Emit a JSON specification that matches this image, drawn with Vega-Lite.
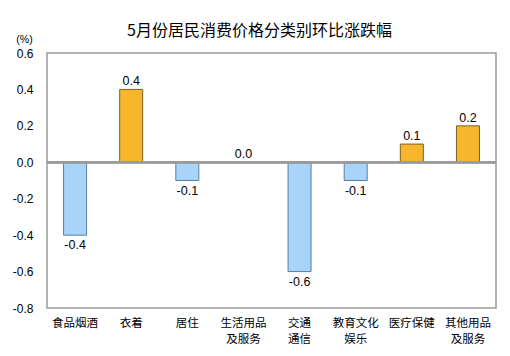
{
  "$schema": "https://vega.github.io/schema/vega-lite/v6.json",
  "autosize": "none",
  "width": 449,
  "height": 255,
  "padding": {"left": 47, "top": 53, "right": 14, "bottom": 48},
  "background": "white",
  "config": {
    "font": "Noto Sans CJK SC",
    "view": {"stroke": "#9a9a9a", "strokeWidth": 1.5},
    "axisY": {"labelOverlap": false}
  },
  "title": {
    "text": "5月份居民消费价格分类别环比涨跌幅",
    "fontSize": 16,
    "fontWeight": "normal",
    "color": "#000000",
    "anchor": "middle",
    "offset": -5,
    "dx": -12,
    "font": "Noto Sans CJK SC"
  },
  "data": {
    "values": [
      {"category": "食品烟酒", "value": -0.4, "sign": "neg"},
      {"category": "衣着", "value": 0.4, "sign": "pos"},
      {"category": "居住", "value": -0.1, "sign": "neg"},
      {"category": "生活用品及服务", "value": 0.0, "sign": "pos"},
      {"category": "交通通信", "value": -0.6, "sign": "neg"},
      {"category": "教育文化娱乐", "value": -0.1, "sign": "neg"},
      {"category": "医疗保健", "value": 0.1, "sign": "pos"},
      {"category": "其他用品及服务", "value": 0.2, "sign": "pos"}
    ]
  },
  "transform": [
    {"calculate": "replace(format(datum.value, '.1f'), '\u2212', '-')", "as": "label"}
  ],
  "encoding": {
    "x": {
      "field": "category",
      "type": "nominal",
      "sort": null,
      "axis": {
        "title": null,
        "labelAngle": 0,
        "domain": false,
        "ticks": false,
        "labelPadding": 9,
        "labelFontSize": 11.5,
        "labelColor": "#000000",
        "labelLineHeight": 16,
        "labelFont": "Noto Sans CJK SC",
        "labelExpr": "datum.value == '交通通信' ? ['交通','通信'] : (length(datum.value) > 4 ? [slice(datum.value,0,4), slice(datum.value,4)] : datum.value)"
      }
    },
    "y": {
      "field": "value",
      "type": "quantitative",
      "scale": {"domain": [-0.8, 0.6], "nice": false},
      "axis": {
        "values": [-0.8, -0.6, -0.4, -0.2, 0.0, 0.2, 0.4, 0.6],
        "labelExpr": "replace(format(datum.value, '.1f'), '\u2212', '-')",
        "labelOverlap": false,
        "grid": false,
        "domain": false,
        "ticks": false,
        "labelPadding": 14,
        "labelFontSize": 12,
        "labelColor": "#000000",
        "labelFont": "Liberation Sans",
        "title": "(%)",
        "titleAngle": 0,
        "titleX": -23,
        "titleY": -9,
        "titleFontSize": 10.5,
        "titleFontWeight": "normal",
        "titleColor": "#000000",
        "titleFont": "Liberation Sans"
      }
    }
  },
  "layer": [
    {
      "mark": {"type": "bar", "size": 23, "strokeWidth": 1},
      "encoding": {
        "color": {
          "field": "sign",
          "type": "nominal",
          "scale": {"domain": ["neg", "pos"], "range": ["#A8D3FB", "#F8B62D"]},
          "legend": null
        },
        "stroke": {
          "field": "sign",
          "type": "nominal",
          "scale": {"domain": ["neg", "pos"], "range": ["#5A7FA0", "#7A5F20"]},
          "legend": null
        }
      }
    },
    {
      "mark": {"type": "rule", "color": "#9a9a9a", "strokeWidth": 2},
      "encoding": {"x": {"value": 0}, "x2": {"value": 449}, "y": {"datum": 0}}
    },
    {
      "transform": [{"filter": "datum.value >= 0"}],
      "mark": {"type": "text", "fontSize": 12.5, "font": "Liberation Sans", "color": "#000000", "align": "center", "baseline": "bottom", "dy": -1},
      "encoding": {
        "text": {"field": "label", "type": "nominal"}
      }
    },
    {
      "transform": [{"filter": "datum.value < 0"}],
      "mark": {"type": "text", "fontSize": 12.5, "font": "Liberation Sans", "color": "#000000", "align": "center", "baseline": "top", "dy": 4},
      "encoding": {
        "text": {"field": "label", "type": "nominal"}
      }
    }
  ]
}
